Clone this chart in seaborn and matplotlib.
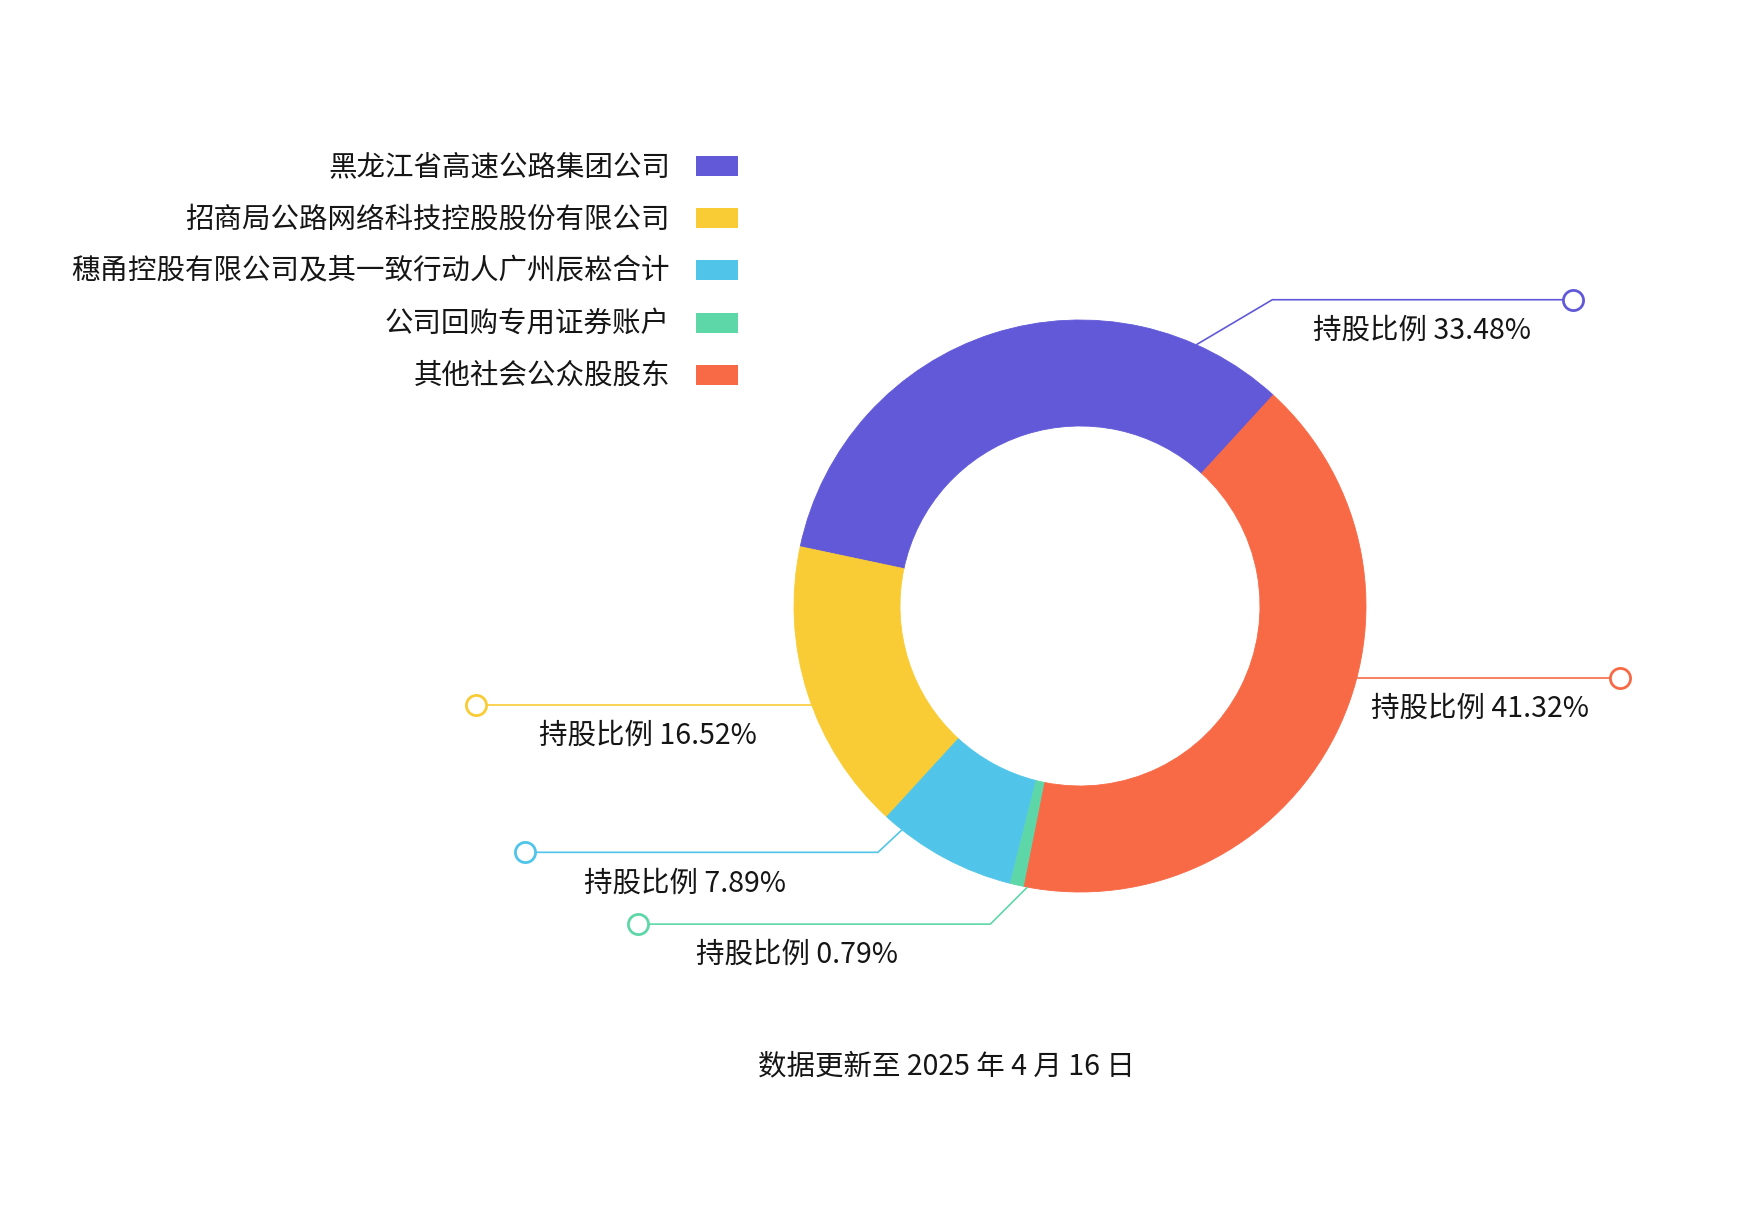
import numpy as np
import matplotlib
matplotlib.use("Agg")
import matplotlib.pyplot as plt
from matplotlib.patches import Rectangle
import seaborn as sns

# ---------------- data ----------------
shareholders = [
    "黑龙江省高速公路集团公司",
    "招商局公路网络科技控股股份有限公司",
    "穗甬控股有限公司及其一致行动人广州辰崧合计",
    "公司回购专用证券账户",
    "其他社会公众股股东",
]
share_pct = [33.48, 16.52, 7.89, 0.79, 41.32]
label_prefix = "持股比例"
footnote = "数据更新至 2025 年 4 月 16 日"
palette_hex = ["#6159D8", "#F9CC35", "#51C5E9", "#5ED7A8", "#F86945"]

# ---------------- style ----------------
sns.set_theme(style="white")
plt.rcParams["font.family"] = ["Noto Sans CJK SC", "DejaVu Sans"]
colors = sns.color_palette(palette_hex)
TXT = "#151515"
FS = 20.5
FW = 500

W, H = 1761, 1214
fig = plt.figure(figsize=(W / 100, H / 100), dpi=100)
fig.patch.set_facecolor("white")
ax = fig.add_axes([0, 0, 1, 1])


def Y(py):
    """screen-pixel y (top-down) -> axes y (bottom-up)"""
    return H - py


# ---------------- donut ----------------
cx, cy = 1080, 606
R_out, R_in = 286, 180
wedges, _ = ax.pie(
    share_pct,
    colors=colors,
    startangle=47.5,
    counterclock=True,
    radius=R_out,
    center=(cx, Y(cy)),
    wedgeprops=dict(width=R_out - R_in, linewidth=0.6),
)
for w, c in zip(wedges, colors):
    w.set_edgecolor(c)

ax.set_xlim(0, W)
ax.set_ylim(0, H)
ax.set_aspect("equal")
ax.axis("off")

# ---------------- legend (text right-aligned, swatch on the right) ----------------
leg_text_x = 670
sw_x, sw_w, sw_h = 696, 42, 20
leg_y0, leg_pitch = 166, 52.2
for i, (name, c) in enumerate(zip(shareholders, colors)):
    yy = leg_y0 + i * leg_pitch
    ax.add_patch(Rectangle((sw_x, Y(yy) - sw_h / 2), sw_w, sw_h,
                           facecolor=c, edgecolor="none"))
    ax.text(leg_text_x, Y(yy + 1), name, ha="right", va="center",
            fontsize=FS, color=TXT, fontweight=FW)

# ---------------- leader lines with labels ----------------
# (anchor angle on ring, elbow offset dx, dy [screen px], end x, label right x)
leaders = [
    (66.0, 76, -45, 1573, 1531),     # purple
    (200.2, 0, 0, 476, 757),         # yellow
    (231.5, -24, 22.5, 524.5, 786),  # blue
    (259.4, -37, 37, 638, 898),      # green
    (345.4, 0, 0, 1620, 1589),       # red
]
for (ang, dx, dy, ex, lx), pct, c in zip(leaders, share_pct, colors):
    a = np.deg2rad(ang)
    x0 = cx + R_out * np.cos(a)
    y0 = cy - R_out * np.sin(a)
    x1, y1 = x0 + dx, y0 + dy
    ax.plot([x0, x1, ex], [Y(y0), Y(y1), Y(y1)], color=c, lw=1.2,
            solid_capstyle="butt", zorder=3)
    ax.plot([ex], [Y(y1)], marker="o", markersize=14.5, markeredgewidth=2.0,
            markerfacecolor="white", markeredgecolor=c, zorder=4)
    ax.text(lx, Y(y1 + 31), f"{label_prefix} {pct:.2f}%", ha="right",
            va="center", fontsize=FS, color=TXT, fontweight=FW)

# ---------------- footnote ----------------
ax.text(946, Y(1066), footnote, ha="center", va="center", fontsize=FS,
        color=TXT, fontweight=FW)

fig.savefig("out.png", dpi=100, facecolor="white")
